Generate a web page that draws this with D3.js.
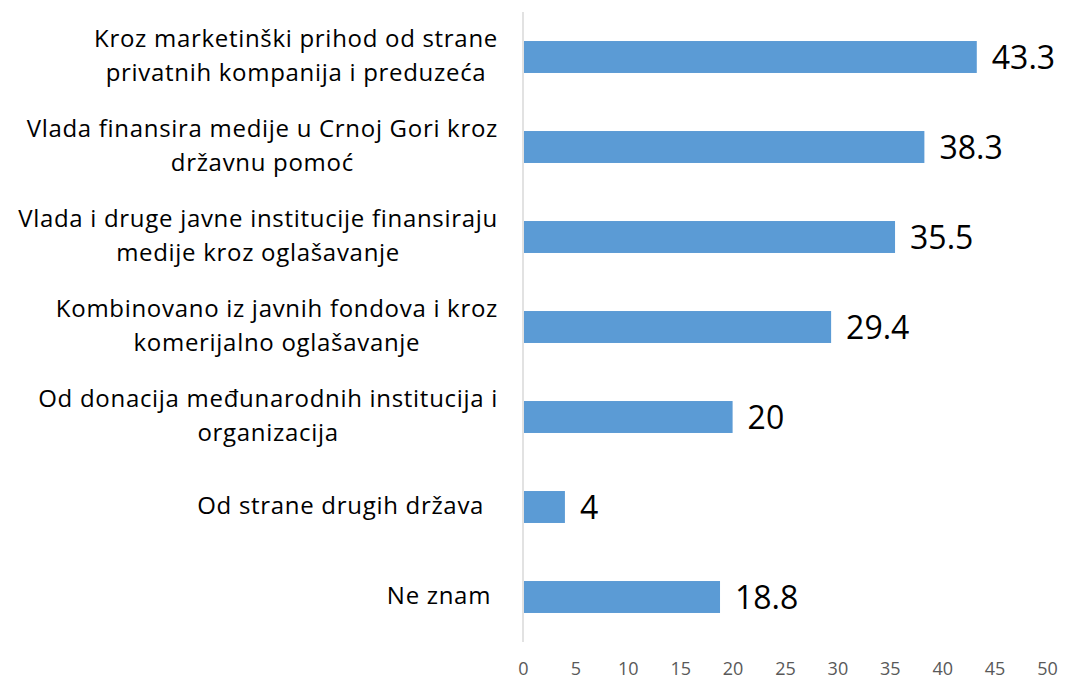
<!DOCTYPE html>
<html>
<head>
<meta charset="utf-8">
<script src="https://cdn.jsdelivr.net/npm/d3@7"></script>
<style>
  body { margin: 0; background: #fff; }
  text { font-family: "Open Sans", Lato, sans-serif; }
</style>
</head>
<body>
<svg id="chart" width="1066" height="685"></svg>
<script>
// data
var categories = [
  ['Kroz marketinški prihod od strane', 'privatnih kompanija i preduzeća'],
  ['Vlada finansira medije u Crnoj Gori kroz', 'državnu pomoć'],
  ['Vlada i druge javne institucije finansiraju', 'medije kroz oglašavanje'],
  ['Kombinovano iz javnih fondova i kroz', 'komerijalno oglašavanje'],
  ['Od donacija međunarodnih institucija i', 'organizacija'],
  ['Od strane drugih država  '],
  ['Ne znam ']
];
var values = [43.3, 38.3, 35.5, 29.4, 20, 4, 18.8];
var valueLabels = ['43.3', '38.3', '35.5', '29.4', '20', '4', '18.8'];
var ticks = [0, 5, 10, 15, 20, 25, 30, 35, 40, 45, 50];

var svg = d3.select('#chart');

var x = d3.scaleLinear().domain([0, 50]).range([523, 1047]);
var y = d3.scaleBand()
  .domain(d3.range(values.length))
  .range([12, 642])
  .paddingInner(0.645)
  .paddingOuter(0.3225);

// axis line
svg.append('line')
  .attr('x1', x(0)).attr('x2', x(0))
  .attr('y1', 12).attr('y2', 642)
  .attr('stroke', '#d9d9d9')
  .attr('stroke-width', 1.5);

// bars
svg.selectAll('rect.bar')
  .data(values)
  .enter().append('rect')
  .attr('class', 'bar')
  .attr('x', x(0) + 1)
  .attr('y', function(d, i) { return y(i); })
  .attr('width', function(d) { return x(d) - x(0) - 1; })
  .attr('height', y.bandwidth())
  .attr('fill', '#5b9bd5');

// value labels
svg.selectAll('text.val')
  .data(values)
  .enter().append('text')
  .attr('class', 'val')
  .attr('x', function(d) { return x(d) + 15; })
  .attr('y', function(d, i) { return y(i) + y.bandwidth() / 2; })
  .attr('dy', '0.36em')
  .attr('font-size', 32)
  .attr('fill', '#000')
  .text(function(d, i) { return valueLabels[i]; });

// x axis tick labels
var xAxis = d3.axisBottom(x).tickValues(ticks).tickSize(0).tickPadding(0);
var gx = svg.append('g')
  .attr('transform', 'translate(0,662)')
  .call(xAxis);
gx.select('.domain').remove();
gx.selectAll('text')
  .attr('font-size', 18)
  .attr('font-family', '"Open Sans", sans-serif')
  .attr('fill', '#595959');

// category labels, wrapped lines centred inside a right aligned block
var labelRight = 498;
categories.forEach(function(lines, i) {
  var cy = y(i) + y.bandwidth() / 2 - 2;
  var g = svg.append('g');
  var texts = lines.map(function(line, j) {
    return g.append('text')
      .attr('font-size', 24)
      .attr('letter-spacing', 0.7)
      .attr('fill', '#000')
      .attr('text-anchor', 'middle')
      .attr('xml:space', 'preserve')
      .attr('y', cy + (j - (lines.length - 1) / 2) * 34)
      .attr('dy', '0.36em')
      .text(line);
  });
  var w = d3.max(texts, function(t) { return t.node().getComputedTextLength(); });
  texts.forEach(function(t) { t.attr('x', labelRight - w / 2); });
});
</script>
</body>
</html>
